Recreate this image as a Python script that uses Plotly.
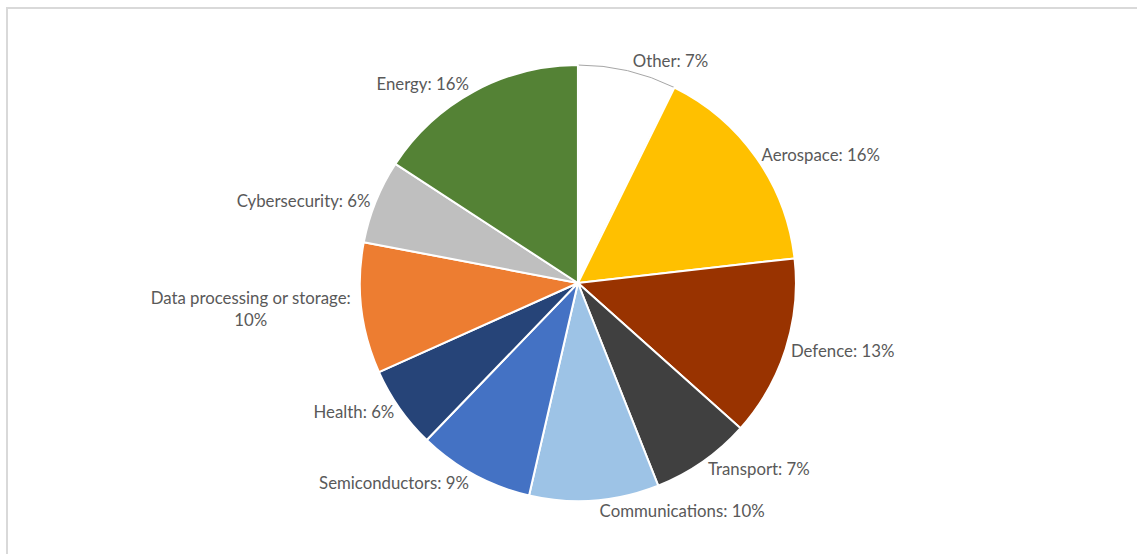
import plotly.graph_objects as go

categories = ["Other", "Aerospace", "Defence", "Transport", "Communications",
              "Semiconductors", "Health", "Data processing or storage",
              "Cybersecurity", "Energy"]
values = [7.3, 15.9, 13.4, 7.4, 9.6, 8.6, 6.1, 9.7, 6.2, 15.8]
shown_pct = [7, 16, 13, 7, 10, 9, 6, 10, 6, 16]
label_text = ["Other", "Aerospace", "Defence", "Transport", "Communications",
              "Semiconductors", "Health", "Data processing or storage:<br>",
              "Cybersecurity", "Energy"]
colors = ["#FFFFFF", "#FFC000", "#993300", "#404040", "#9DC3E6",
          "#4472C4", "#264478", "#ED7D31", "#BFBFBF", "#548235"]
line_colors = ["#A6A6A6"] + ["#FFFFFF"] * 9
line_widths = [1] + [2] * 9

texts = [t if t.endswith("<br>") else t + ": " for t in label_text]
texts = [t + "%d%%" % p for t, p in zip(texts, shown_pct)]

fig = go.Figure(go.Pie(
    labels=categories,
    values=values,
    text=texts,
    textinfo="text",
    textposition="outside",
    sort=False,
    direction="clockwise",
    rotation=0,
    marker=dict(colors=colors, line=dict(color=line_colors, width=line_widths)),
    outsidetextfont=dict(family="Lato", size=16.8, color="#595959"),
    showlegend=False,
    hoverinfo="label+percent",
    domain=dict(x=[0.3083, 0.7083], y=[0, 1]),
    automargin=False,
))

fig.update_layout(
    width=1137, height=554,
    margin=dict(l=0, r=0, t=65, b=53),
    paper_bgcolor="white",
    plot_bgcolor="white",
    shapes=[
        dict(type="line", xref="paper", yref="paper", x0=6 / 1137, x1=1.0,
             y0=(501 - 8) / 436, y1=(501 - 8) / 436,
             line=dict(color="#D9D9D9", width=2)),
        dict(type="line", xref="paper", yref="paper", x0=7 / 1137, x1=7 / 1137,
             y0=(501 - 8) / 436, y1=(501 - 560) / 436,
             line=dict(color="#D9D9D9", width=2)),
    ],
)

fig.write_html("out.html",
               config={"displayModeBar": False},
               post_script="document.body.style.margin='0';document.body.style.overflow='hidden';")
